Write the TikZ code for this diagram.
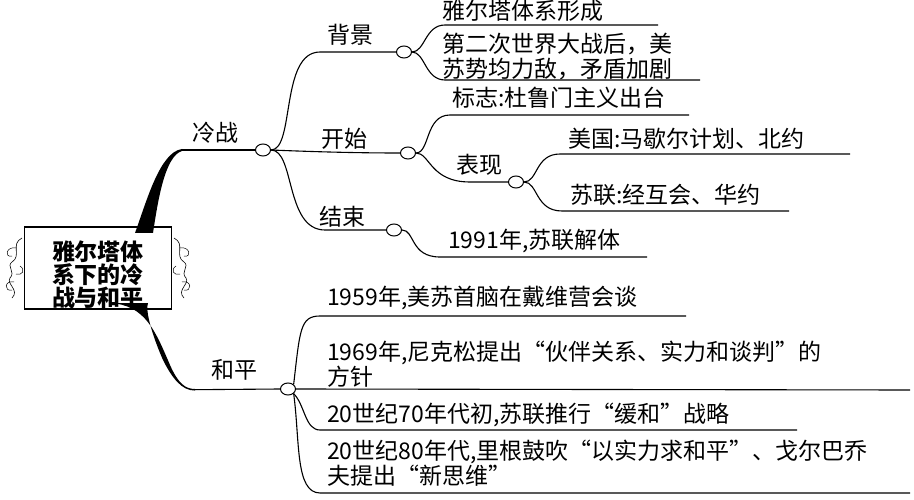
\documentclass[tikz,border=0pt]{standalone}
\usepackage{fontspec}
\setmainfont{Noto Sans CJK SC}
\usetikzlibrary{shapes.geometric}
\begin{document}
\begin{tikzpicture}[x=1pt,y=-1pt,
  knot/.style={draw,ellipse,minimum width=15pt,minimum height=12pt,inner sep=0pt,fill=white,line width=1pt},
  lbl/.style={font=\fontsize{23}{25}\selectfont,inner sep=0pt},
  leaf/.style={font=\fontsize{23}{25}\selectfont,inner sep=0pt,anchor=west,align=left},
  br/.style={line width=1.1pt},
  ]
\useasboundingbox (0,0) rectangle (914,500);
% root
\node[draw,line width=1.6pt,minimum width=147pt,minimum height=70pt,text height=62pt,align=center,
  font=\fontsize{23}{21}\selectfont\bfseries,inner sep=0pt] (root) at (98,268) {\raisebox{8pt}{\parbox{140pt}{\centering 雅尔塔体\\系下的冷\\战与和平}}};
% ornaments
\foreach \s in {-1,1}{
  \begin{scope}[shift={(98+\s*82,268)},xscale=\s]
    \draw[line width=0.6pt] (-6,-30) .. controls (6,-24) and (-6,-12) .. (4,-6) .. controls (10,-2) and (0,4) .. (6,10) .. controls (10,16) and (-4,22) .. (4,30);
    \draw[line width=0.5pt] (0,-20) .. controls (10,-22) and (12,-10) .. (4,-12);
    \draw[line width=0.5pt] (2,14) .. controls (12,12) and (12,24) .. (4,22);
    \draw[line width=0.5pt] (-4,-2) .. controls (-10,2) and (-6,8) .. (0,6);
  \end{scope}}
% circles
\node[knot] (lz) at (263,150) {};
\node[knot] (hp) at (288,389) {};
\node[knot] (bj) at (404,52) {};
\node[knot] (ks) at (408,153) {};
\node[knot] (js) at (394,230) {};
\node[knot] (bx) at (516,182) {};
% thick tapered branches
\fill (135,233) .. controls (147,200) and (160,152) .. (182,149)
  -- (182,151) .. controls (165,156) and (158,200) .. (153,233) -- cycle;
\fill (110,303) .. controls (145,305) and (155,330) .. (170,365) .. controls (178,383) and (185,389) .. (195,389)
  -- (195,390.5) .. controls (182,391) and (172,378) .. (163,360) .. controls (152,335) and (145,310) .. (148,303) -- cycle;
\coordinate (lzs) at (181,150);
\coordinate (hps) at (194,389.7);
\draw[br] (lzs) -- (lz.west);
\draw[br] (hps) -- (hp.west);
\node[lbl] (tlz) at (215,133) {冷战};
\node[lbl] (thp) at (234,370) {和平};
% level 2 from lz
\draw[br] (lz.east) .. controls (295,150) and (280,52) .. (320,52) -- (bj.west);
\draw[br] (lz.east) .. controls (320,152) and (360,153) .. (ks.west);
\draw[br] (lz.east) .. controls (295,150) and (285,230) .. (325,230) -- (js.west);
\node[lbl] (tbj) at (350,35) {背景};
\node[lbl] (tks) at (344,139) {开始};
\node[lbl] (tjs) at (342,217) {结束};
% background leaves
\coordinate (a1) at (445,25); \coordinate (a1e) at (658,25);
\coordinate (a2) at (445,80); \coordinate (a2e) at (700,80);
\draw[br] (bj.east) .. controls (425,52) and (425,25) .. (a1) -- (a1e);
\draw[br] (bj.east) .. controls (425,52) and (425,80) .. (a2) -- (a2e);
\node[leaf] (ta1) at (442,11) {雅尔塔体系形成};
\node[leaf] (ta2) at (442,57) {第二次世界大战后，美\\苏势均力敌，矛盾加剧};
% start
\coordinate (b1) at (450,115); \coordinate (b1e) at (689,115);
\draw[br] (ks.east) .. controls (430,153) and (425,115) .. (b1) -- (b1e);
\draw[br] (ks.east) .. controls (430,153) and (430,182) .. (470,182) -- (bx.west);
\node[leaf] (tb1) at (452,98) {标志:杜鲁门主义出台};
\node[lbl] (tbx) at (479,165) {表现};
\coordinate (c1) at (560,154); \coordinate (c1e) at (850,154);
\coordinate (c2) at (562,211); \coordinate (c2e) at (789,211);
\draw[br] (bx.east) .. controls (538,182) and (535,154) .. (c1) -- (c1e);
\draw[br] (bx.east) .. controls (538,182) and (535,211) .. (c2) -- (c2e);
\node[leaf] (tc1) at (568,139) {美国:马歇尔计划、北约};
\node[leaf] (tc2) at (570,195) {苏联:经互会、华约};
% end
\coordinate (d1) at (440,257); \coordinate (d1e) at (647,257);
\draw[br] (js.east) .. controls (415,230) and (410,257) .. (d1) -- (d1e);
\node[leaf] (td1) at (448,241) {1991年,苏联解体};
% peace
\coordinate (e1) at (320,316); \coordinate (e1e) at (686,316);
\coordinate (e2e) at (910,390);
\coordinate (e3) at (320,430); \coordinate (e3e) at (797,430);
\coordinate (e4) at (320,493); \coordinate (e4e) at (910,493);
\draw[br] (hp.north east) .. controls (300,330) and (300,316) .. (e1) -- (e1e);
\draw[br] (hp.east) -- (e2e);
\draw[br] (hp.south east) .. controls (305,405) and (305,430) .. (e3) -- (e3e);
\draw[br] (hp.south east) .. controls (300,440) and (295,493) .. (e4) -- (e4e);
\node[leaf] (te1) at (327,298) {1959年,美苏首脑在戴维营会谈};
\node[leaf] (te2) at (327,364) {1969年,尼克松提出“伙伴关系、实力和谈判”的\\方针};
\node[leaf] (te3) at (327,415) {20世纪70年代初,苏联推行“缓和”战略};
\node[leaf] (te4) at (327,463) {20世纪80年代,里根鼓吹“以实力求和平”、戈尔巴乔\\夫提出“新思维”};
\end{tikzpicture}
\end{document}
